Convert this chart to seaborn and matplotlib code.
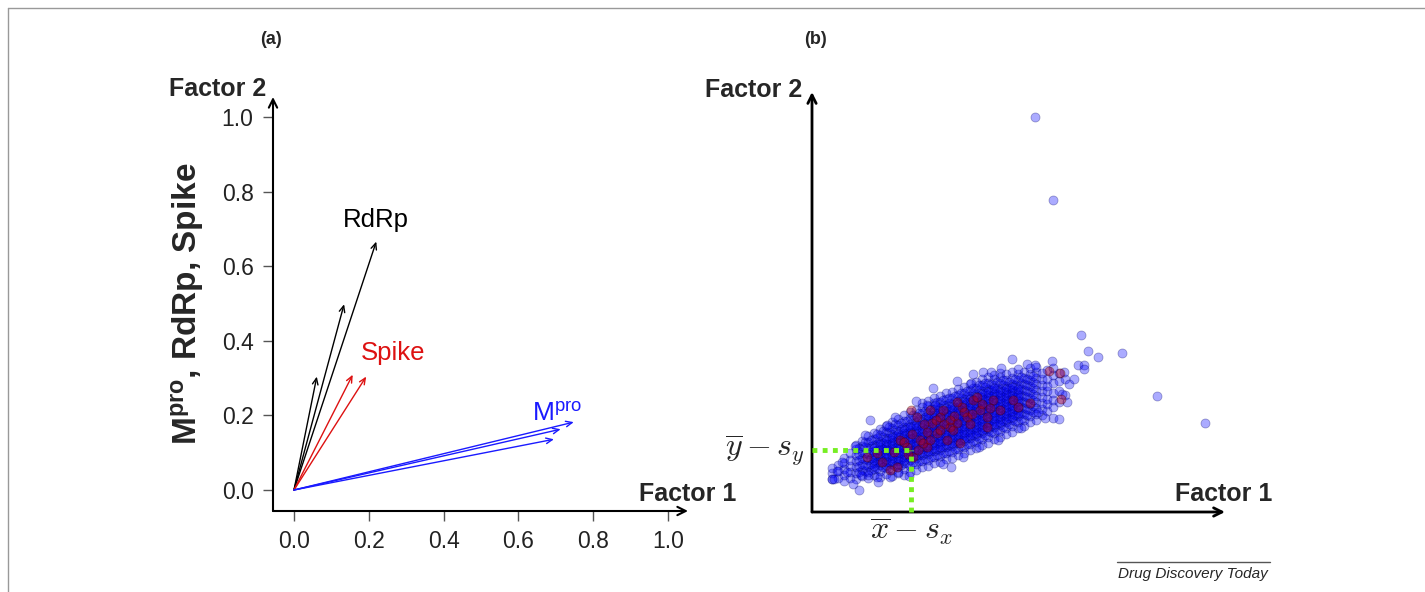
import pandas as pd
import seaborn as sns
import matplotlib.pyplot as plt
from matplotlib.lines import Line2D

# ---------------- panel (a): loading vectors ----------------
rdrp_x = [0.220, 0.134, 0.061]
rdrp_y = [0.666, 0.498, 0.304]
spike_x = [0.157, 0.193]
spike_y = [0.309, 0.304]
mpro_x = [0.748, 0.713, 0.695]
mpro_y = [0.182, 0.163, 0.136]
ticks_a = [0.0, 0.2, 0.4, 0.6, 0.8, 1.0]
tick_labels_a = ['0.0', '0.2', '0.4', '0.6', '0.8', '1.0']

# ---------------- panel (b): factor scores ----------------
# band of points, one entry per column: (factor1, [factor2 values])
blue_band = [
    (20, [33, 39, 44]), (26, [34, 41, 47]), (32, [31, 37, 43, 49, 54]),
    (38, [34, 40, 46, 52, 59]), (44, [33, 39, 45, 51, 57, 63, 67]),
    (50, [36, 42, 48, 54, 60, 66, 71]), (56, [34, 40, 46, 52, 58, 64, 70, 76]),
    (62, [37, 43, 49, 55, 61, 67, 73, 79]), (68, [35, 41, 47, 53, 59, 65, 71, 77, 83]),
    (74, [38, 44, 50, 56, 62, 68, 74, 80, 86]), (80, [36, 42, 48, 54, 60, 66, 72, 78, 84, 90]),
    (86, [39, 45, 51, 57, 63, 69, 75, 81, 87, 93]),
    (92, [37, 43, 49, 55, 61, 67, 73, 79, 85, 91, 97]),
    (98, [40, 46, 52, 58, 64, 70, 76, 82, 88, 94, 100]),
    (104, [42, 48, 54, 60, 66, 72, 78, 84, 90, 96, 102]),
    (110, [45, 51, 57, 63, 69, 75, 81, 87, 93, 99, 105, 109]),
    (116, [46, 52, 58, 64, 70, 76, 82, 88, 94, 100, 106, 111]),
    (122, [49, 55, 61, 67, 73, 79, 85, 91, 97, 103, 109, 114]),
    (128, [50, 56, 62, 68, 74, 80, 86, 92, 98, 104, 110, 116]),
    (134, [53, 59, 65, 71, 77, 83, 89, 95, 101, 107, 113, 119]),
    (140, [54, 60, 66, 72, 78, 84, 90, 96, 102, 108, 114, 120]),
    (146, [57, 63, 69, 75, 81, 87, 93, 99, 105, 111, 117, 123]),
    (152, [59, 65, 71, 77, 83, 89, 95, 101, 107, 113, 119, 125]),
    (158, [62, 68, 74, 80, 86, 92, 98, 104, 110, 116, 122, 128]),
    (164, [64, 70, 76, 82, 88, 94, 100, 106, 112, 118, 124, 130]),
    (170, [67, 73, 79, 85, 91, 97, 103, 109, 115, 121, 127, 133]),
    (176, [69, 75, 81, 87, 93, 99, 105, 111, 117, 123, 129, 135]),
    (182, [73, 79, 85, 91, 97, 103, 109, 115, 121, 127, 133, 137]),
    (188, [75, 81, 87, 93, 99, 105, 111, 117, 123, 129, 135, 139]),
    (194, [78, 84, 90, 96, 102, 108, 114, 120, 126, 132, 138]),
    (200, [80, 86, 92, 98, 104, 110, 116, 122, 128, 134, 140]),
    (206, [84, 90, 96, 102, 108, 114, 120, 126, 132, 138, 143]),
    (212, [86, 92, 98, 104, 110, 116, 122, 128, 134, 140]),
    (218, [90, 96, 102, 108, 114, 120, 126, 132, 138, 144]),
    (224, [92, 98, 104, 110, 116, 122, 128, 134, 140, 145]),
    (230, [97, 103, 109, 115, 121, 127, 133, 139]),
    (235, [101, 108, 113, 121, 126, 133, 142]),
    (241, [105, 112, 119, 129, 137, 144]),
    (247, [110, 121, 131, 139]),
    (253, [117, 133]),
]
blue_core = [
    (47, [40, 46, 52, 58, 64]), (53, [41, 47, 53, 59, 65, 70]),
    (59, [42, 48, 54, 60, 66, 72]), (65, [44, 50, 56, 62, 68, 74, 78]),
    (71, [45, 51, 57, 63, 69, 75, 81]), (77, [44, 50, 56, 62, 68, 74, 80, 85]),
    (83, [46, 52, 58, 64, 70, 76, 82, 88]), (89, [47, 53, 59, 65, 71, 77, 83, 89]),
    (95, [49, 55, 61, 67, 73, 79, 85, 91]), (101, [50, 56, 62, 68, 74, 80, 86, 92, 97]),
    (107, [51, 57, 63, 69, 75, 81, 87, 93, 99]), (113, [53, 59, 65, 71, 77, 83, 89, 95, 101]),
    (119, [55, 61, 67, 73, 79, 85, 91, 97, 103]),
    (125, [57, 63, 69, 75, 81, 87, 93, 99, 105, 110]),
    (131, [59, 65, 71, 77, 83, 89, 95, 101, 107, 112]),
    (137, [61, 67, 73, 79, 85, 91, 97, 103, 109, 114]),
    (143, [63, 69, 75, 81, 87, 93, 99, 105, 111, 116]),
    (149, [66, 72, 78, 84, 90, 96, 102, 108, 114, 119]),
    (155, [68, 74, 80, 86, 92, 98, 104, 110, 116, 121]),
    (161, [71, 77, 83, 89, 95, 101, 107, 113, 119, 124]),
    (167, [74, 80, 86, 92, 98, 104, 110, 116, 122, 127]),
    (173, [77, 83, 89, 95, 101, 107, 113, 119, 125, 129]),
    (179, [80, 86, 92, 98, 104, 110, 116, 122, 128]),
    (185, [82, 88, 94, 100, 106, 112, 118, 124, 130]),
    (191, [85, 91, 97, 103, 109, 115, 121, 127, 132]),
    (197, [88, 94, 100, 106, 112, 118, 124, 130]),
    (203, [91, 97, 103, 109, 115, 121, 127, 133]),
    (209, [93, 99, 105, 111, 117, 123, 129, 135]),
    (215, [97, 103, 109, 115, 121, 127, 133]),
    (221, [100, 106, 112, 118, 124, 130, 136]),
]
blue_inner = [
    (62, [46, 52, 58, 64]), (68, [50, 56, 62, 68]), (74, [47, 53, 59, 65, 71]),
    (80, [51, 57, 63, 69, 75]), (86, [48, 54, 60, 66, 72, 78]),
    (92, [52, 58, 64, 70, 76, 82]), (98, [55, 61, 67, 73, 79, 85]),
    (104, [57, 63, 69, 75, 81, 87]), (110, [60, 66, 72, 78, 84, 90]),
    (116, [61, 67, 73, 79, 85, 91, 97]), (122, [64, 70, 76, 82, 88, 94, 100]),
    (128, [65, 71, 77, 83, 89, 95, 101]), (134, [68, 74, 80, 86, 92, 98, 104]),
    (140, [69, 75, 81, 87, 93, 99, 105]), (146, [72, 78, 84, 90, 96, 102, 108]),
    (152, [74, 80, 86, 92, 98, 104, 110]), (158, [77, 83, 89, 95, 101, 107, 113]),
    (164, [79, 85, 91, 97, 103, 109, 115]), (170, [82, 88, 94, 100, 106, 112, 118]),
    (176, [84, 90, 96, 102, 108, 114, 120]), (182, [88, 94, 100, 106, 112, 118, 124]),
    (188, [90, 96, 102, 108, 114, 120]), (194, [93, 99, 105, 111, 117, 123]),
    (200, [95, 101, 107, 113, 119, 125]), (206, [99, 105, 111, 117, 123]),
]
blue_extra_x = [58, 47, 20, 22, 25, 139, 167, 121, 161, 171, 179, 159, 241, 247, 226,
                200, 223, 240, 43, 75, 83, 115, 123, 269, 276, 286, 310, 266, 272, 272,
                345, 393, 223, 241, 35, 49, 56, 65, 78, 86, 252, 257, 255, 250, 262,
                30, 41, 53, 66, 97, 131, 151, 186, 209, 233, 104, 145, 189, 215]
blue_extra_y = [92, 22, 33, 33, 41, 45, 65, 124, 138, 140, 140, 129, 94, 93, 100,
                153, 147, 151, 66, 87, 95, 107, 107, 177, 161, 155, 159, 147, 147, 143,
                116, 89, 395, 312, 40, 37, 37, 35, 35, 40, 140, 128, 110, 118, 133,
                50, 28, 77, 30, 36, 48, 55, 72, 84, 94, 111, 131, 144, 148]

red_x = [108, 115, 120, 128, 138, 141, 145, 125, 131, 150, 155, 115, 101, 85, 78,
         65, 55, 168, 181, 175, 188, 201, 161, 135, 95, 88, 105, 118, 148, 175, 111,
         99, 237, 248, 249, 206, 218,
         70, 82, 92, 100, 112, 124, 132, 142, 152, 160, 170, 178, 96, 106, 118, 128,
         138, 158, 165, 145]
red_y = [72, 80, 89, 95, 85, 82, 89, 79, 102, 105, 95, 65, 55, 45, 42,
         59, 55, 102, 112, 95, 102, 112, 112, 72, 65, 72, 95, 102, 69, 85, 69,
         102, 141, 139, 113, 105, 109,
         50, 60, 70, 78, 88, 92, 88, 96, 100, 98, 108, 104, 58, 62, 72, 82,
         92, 88, 115, 110]

xbar_minus_sx = 99
ybar_minus_sy = 62


def expand(cols):
    xs, ys = [], []
    for x, col in cols:
        xs += [x] * len(col)
        ys += col
    return xs, ys


bx, by = [], []
for grp in (blue_band, blue_core, blue_inner):
    gx, gy = expand(grp)
    bx += gx
    by += gy
bx += blue_extra_x
by += blue_extra_y
blue_df = pd.DataFrame({'f1': bx, 'f2': by})
red_df = pd.DataFrame({'f1': red_x, 'f2': red_y})

# ---------------- styling ----------------
sns.set_style('ticks')
plt.rcParams['font.family'] = ['Liberation Sans', 'DejaVu Sans']
plt.rcParams['mathtext.fontset'] = 'custom'
plt.rcParams['mathtext.rm'] = 'Liberation Sans'
plt.rcParams['mathtext.bf'] = 'Liberation Sans:bold'
plt.rcParams['mathtext.it'] = 'Liberation Sans:italic'

RED = '#dd1111'
BLUE = '#1a1aff'
W, H = 1425, 592

fig = plt.figure(figsize=(14.25, 5.92), dpi=100)

# ---------------- panel (a) ----------------
ax1 = fig.add_axes([273 / W, 81 / H, 415 / W, 414 / H])
ax1.set_xlim(-0.0561, 1.0535)
ax1.set_ylim(-0.0563, 1.0536)
for s in ax1.spines.values():
    s.set_visible(False)
ax1.set_xticks(ticks_a, tick_labels_a)
ax1.set_yticks(ticks_a, tick_labels_a)
ax1.tick_params(direction='out', length=7, width=1, color='#555', labelsize=16.5,
                labelcolor='#222', pad=7)

axis_arrow = dict(arrowstyle='->,head_length=0.5,head_width=0.25', lw=1.5, color='black',
                  shrinkA=0, shrinkB=0, mutation_scale=12)
ax1.annotate('', xy=(1, 0), xytext=(0, 0), xycoords='axes fraction', arrowprops=axis_arrow)
ax1.annotate('', xy=(0, 1), xytext=(0, 0), xycoords='axes fraction', arrowprops=axis_arrow)

for xs, ys, col in [(rdrp_x, rdrp_y, 'black'), (spike_x, spike_y, RED), (mpro_x, mpro_y, BLUE)]:
    for x, y in zip(xs, ys):
        ax1.annotate('', xy=(x, y), xytext=(0, 0),
                     arrowprops=dict(arrowstyle='->,head_length=0.45,head_width=0.2', lw=1.0,
                                     color=col, shrinkA=0, shrinkB=0, mutation_scale=10))

ax1.text(0.22, 0.725, 'RdRp', ha='center', va='center', fontsize=18.5, color='black')
ax1.text(0.265, 0.367, 'Spike', ha='center', va='center', fontsize=18.5, color=RED)
ax1.text(0.636, 0.183, 'M$^{\\mathrm{pro}}$', ha='left', va='baseline', fontsize=19, color=BLUE)

ax1.text(-0.074, 1.075, 'Factor 2', ha='right', va='center', fontsize=18,
         fontweight='bold', clip_on=False)
ax1.text(1.053, -0.01, 'Factor 1', ha='center', va='center', fontsize=18,
         fontweight='bold', clip_on=False)
ax1.text(-0.284, 0.5, '$\\mathbf{M^{pro}}$, RdRp, Spike', rotation=90, ha='center',
         va='center', fontsize=24, fontweight='bold', clip_on=False)

# ---------------- panel (b) ----------------
ax2 = fig.add_axes([812 / W, 80 / H, 413 / W, 420 / H])
sns.scatterplot(data=blue_df, x='f1', y='f2', ax=ax2, color='blue', s=42, alpha=0.33,
                edgecolor='#000066', linewidth=0.6, legend=False)
sns.scatterplot(data=red_df, x='f1', y='f2', ax=ax2, color='#c80000', s=42, alpha=0.38,
                edgecolor='#400000', linewidth=0.6, legend=False)
ax2.set_xlim(0, 413)
ax2.set_ylim(0, 420)
ax2.set_xlabel('')
ax2.set_ylabel('')
ax2.set_xticks([])
ax2.set_yticks([])
for s in ax2.spines.values():
    s.set_visible(False)

axis_arrow2 = dict(axis_arrow, lw=2.0)
ax2.annotate('', xy=(1, 0), xytext=(0, 0), xycoords='axes fraction', arrowprops=axis_arrow2)
ax2.annotate('', xy=(0, 1), xytext=(0, 0), xycoords='axes fraction', arrowprops=axis_arrow2)

green = '#77ee22'
ax2.plot([0, xbar_minus_sx], [ybar_minus_sy, ybar_minus_sy], color=green, lw=3.5,
         linestyle=(0, (1, 1.1)), solid_capstyle='butt', zorder=5, clip_on=False)
ax2.plot([xbar_minus_sx, xbar_minus_sx], [0, ybar_minus_sy], color=green, lw=3.5,
         linestyle=(0, (1, 1.1)), solid_capstyle='butt', zorder=5, clip_on=False)
ax2.text(-7, ybar_minus_sy, r'$\overline{y} - s_y$', ha='right', va='center', fontsize=23,
         math_fontfamily='cm', clip_on=False)
ax2.text(xbar_minus_sx, -4, r'$\overline{x} - s_x$', ha='center', va='top', fontsize=23,
         math_fontfamily='cm', clip_on=False)

ax2.text(-10, 422, 'Factor 2', ha='right', va='center', fontsize=18, fontweight='bold',
         clip_on=False)
ax2.text(412, 18, 'Factor 1', ha='center', va='center', fontsize=18, fontweight='bold',
         clip_on=False)

# ---------------- panel letters, footer, frame ----------------
fig.text(271 / W, 1 - 40 / H, '(a)', ha='center', va='center', fontsize=13, fontweight='bold')
fig.text(816 / W, 1 - 40 / H, '(b)', ha='center', va='center', fontsize=13, fontweight='bold')
fig.text(1193 / W, 1 - 574 / H, 'Drug Discovery Today', ha='center', va='center',
         fontsize=11, style='italic')
fig.add_artist(Line2D([1117 / W, 1270 / W], [1 - 562 / H] * 2, color='#555', lw=1))
fig.add_artist(Line2D([8 / W, 1], [1 - 8 / H] * 2, color='#999', lw=1))
fig.add_artist(Line2D([8 / W, 8 / W], [0, 1 - 8 / H], color='#999', lw=1))

fig.savefig('out.png', dpi=100)
